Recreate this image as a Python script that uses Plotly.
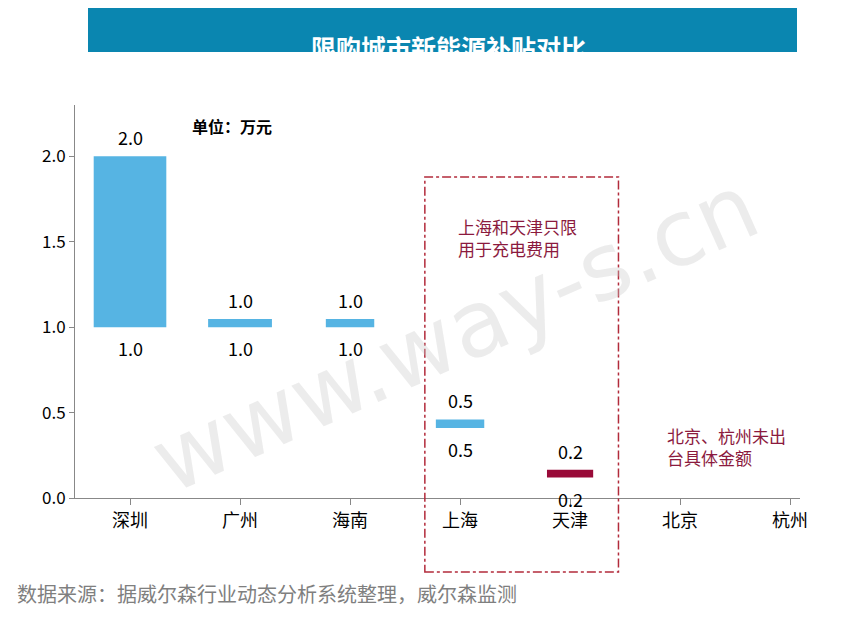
import plotly.graph_objects as go

cities = ["深圳", "广州", "海南", "上海", "天津", "北京", "杭州"]
upper = [2.0, 1.0, 1.0, 0.5, 0.2, None, None]
lower = [1.0, 1.0, 1.0, 0.5, 0.2, None, None]
bar_base = [1.0, 1.0, 1.0, 0.41, 0.12, None, None]
bar_top = [2.0, 1.047, 1.047, 0.46, 0.165, None, None]
bar_colors = ["#56b4e3", "#56b4e3", "#56b4e3", "#56b4e3", "#990a38", "#56b4e3", "#56b4e3"]
widths = [0.66, 0.58, 0.44, 0.44, 0.42, 0.5, 0.5]

font = "Noto Sans CJK SC"
fig = go.Figure()
fig.add_trace(go.Bar(
    x=cities,
    y=[None if t is None else t - b for t, b in zip(bar_top, bar_base)],
    base=bar_base, width=widths, marker_color=bar_colors, marker_line_width=0,
    showlegend=False, hoverinfo="skip",
))

fig.update_layout(
    width=846, height=644, plot_bgcolor="white", paper_bgcolor="white",
    margin=dict(l=67, r=54, t=97, b=154),
    font=dict(family=font, size=17, color="black"),
    xaxis=dict(range=[-0.5, 6.09], showline=True, linecolor="#888", ticks="outside",
               ticklen=6, tickcolor="#888", tickfont=dict(size=18)),
    yaxis=dict(range=[0, 2.3], dtick=0.5, tickformat=".1f", showline=True,
               linecolor="#888", ticks="outside", tickcolor="#888", ticklen=5,
               showgrid=False, zeroline=False, tickfont=dict(size=17)),
    shapes=[
        dict(type="rect", xref="paper", yref="paper", x0=13/725, x1=722/725,
             y0=(498-52)/393, y1=(498-3)/393, fillcolor="#0a86b0",
             line_width=0, layer="below"),
        dict(type="rect", xref="x", yref="paper", x0=2.68, x1=4.44,
             y0=-74/393, y1=321/393, line=dict(color="#b22b3b", width=1.5, dash="dashdot")),
    ],
    annotations=[
        dict(xref="paper", yref="paper", x=(448-75)/725, y=(498-27)/393,
             text="<b>限购城市新能源补贴对比</b>", showarrow=False,
             font=dict(size=25, color="white")),
        dict(xref="paper", yref="paper", x=(190-75)/725, y=(498-112)/393,
             text="<b>单位：万元</b>", showarrow=False, xanchor="left",
             font=dict(size=16)),
        dict(xref="paper", yref="paper", x=(456-75)/725, y=(498-237)/393,
             text="上海和天津只限<br>用于充电费用", showarrow=False, xanchor="left",
             align="left", font=dict(size=17, color="#8b1a3e")),
        dict(xref="paper", yref="paper", x=(665-75)/725, y=(498-472)/393,
             text="北京、杭州未出<br>台具体金额", showarrow=False, xanchor="left",
             align="left", font=dict(size=17, color="#8b1a3e")),
        dict(xref="paper", yref="paper", x=-60/725, y=-(610-498)/393,
             text="数据来源：据威尔森行业动态分析系统整理，威尔森监测",
             showarrow=False, xanchor="left", font=dict(size=20, color="#7f7f7f")),
        dict(xref="paper", yref="paper", x=(455-75)/725, y=(498-150)/393,
             text="www.way-s.cn", showarrow=False, textangle=-24,
             font=dict(size=92, color="rgba(200,200,200,0.35)", family="DejaVu Sans")),
    ],
)
for c, u, lo, t, b in zip(cities, upper, lower, bar_top, bar_base):
    if u is None:
        continue
    fig.add_annotation(x=c, y=t, text=f"{u:.1f}", yanchor="bottom", yshift=4,
                       showarrow=False, font=dict(size=18, color="black"))
    fig.add_annotation(x=c, y=b, text=f"{lo:.1f}", yanchor="top", yshift=-6,
                       showarrow=False, font=dict(size=18, color="black"))
fig.write_html("out.html")
